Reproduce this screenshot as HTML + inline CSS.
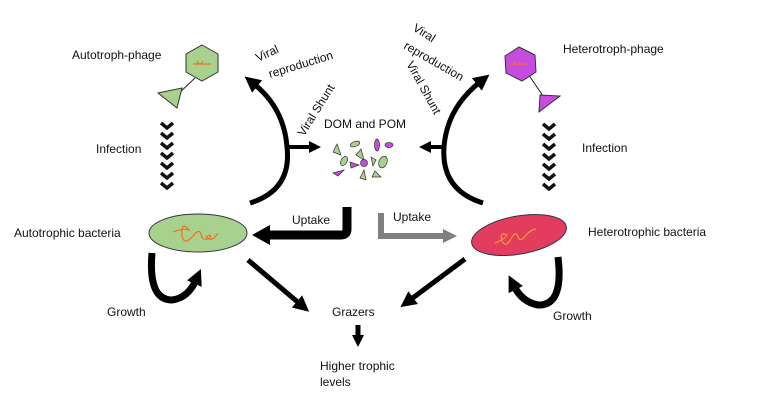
<!DOCTYPE html>
<html><head><meta charset="utf-8"><style>
html,body{margin:0;padding:0;background:#fff;}
svg{display:block;font-family:"Liberation Sans",sans-serif;}
text{font-size:12px;fill:#111;}
</style></head><body>
<svg width="764" height="413" viewBox="0 0 764 413" xmlns="http://www.w3.org/2000/svg">
<defs>
<marker id="ah" markerWidth="16" markerHeight="16" refX="4" refY="8" orient="auto" markerUnits="userSpaceOnUse"><path d="M0,0 L16,8 L0,16 z" fill="#000"/></marker>
<marker id="ahs" markerWidth="12" markerHeight="12" refX="3" refY="6" orient="auto" markerUnits="userSpaceOnUse"><path d="M0,0 L12,6 L0,12 z" fill="#000"/></marker>
<marker id="ahb" markerWidth="18" markerHeight="20" refX="4" refY="10" orient="auto" markerUnits="userSpaceOnUse"><path d="M0,0 L18,10 L0,20 z" fill="#000"/></marker>
<marker id="ahg" markerWidth="14" markerHeight="14" refX="3" refY="7" orient="auto" markerUnits="userSpaceOnUse"><path d="M0,0 L14,7 L0,14 z" fill="#7f7f7f"/></marker>
</defs>

<!-- left phage -->
<line x1="195" y1="78" x2="176" y2="96" stroke="#222" stroke-width="1"/>
<polygon points="202,45 218,54 218,72 202,81 186,72 186,54" fill="#a9d18e" stroke="#333" stroke-width="1"/>
<path d="M193,64 h18 M197,61 q3,6 6,0" stroke="#f07020" stroke-width="1.2" fill="none"/>
<polygon points="158,93 182,88 177,108" fill="#a9d18e" stroke="#333" stroke-width="1"/>
<!-- right phage -->
<line x1="524" y1="68" x2="543" y2="96" stroke="#222" stroke-width="1"/>
<polygon points="519,47 535,55 536,72 522,81 506,73 505,56" fill="#c64ce0" stroke="#333" stroke-width="1"/>
<path d="M510,64 h18 M514,61 q3,6 6,0" stroke="#f07020" stroke-width="1.2" fill="none"/>
<polygon points="540,95 560,96 539,112" fill="#c64ce0" stroke="#333" stroke-width="1"/>

<!-- chevrons -->
<g fill="none" stroke="#111" stroke-width="3.5">
<path d="M161,123 l6,5 l6,-5 M161,133 l6,5 l6,-5 M161,143 l6,5 l6,-5 M161,153 l6,5 l6,-5 M161,163 l6,5 l6,-5 M161,173 l6,5 l6,-5 M161,183 l6,5 l6,-5"/>
<path d="M543,124 l6,5 l6,-5 M543,134 l6,5 l6,-5 M543,144 l6,5 l6,-5 M543,154 l6,5 l6,-5 M543,164 l6,5 l6,-5 M543,174 l6,5 l6,-5 M543,184 l6,5 l6,-5"/>
</g>

<!-- arcs -->
<path d="M250,203 Q292,190 287,147 Q284,108 254,84" fill="none" stroke="#000" stroke-width="5" marker-end="url(#ah)"/>
<path d="M483,203 Q441,190 444,147 Q447,108 480,82" fill="none" stroke="#000" stroke-width="5" marker-end="url(#ah)"/>
<!-- viral shunt arrows -->
<line x1="287" y1="147" x2="312" y2="147" stroke="#000" stroke-width="4" marker-end="url(#ahs)"/>
<line x1="444" y1="147" x2="428" y2="147" stroke="#000" stroke-width="4" marker-end="url(#ahs)"/>

<!-- particles -->
<g stroke="#333" stroke-width="0.7">
<polygon points="337,144 341,155 333,152" fill="#a9d18e"/>
<ellipse cx="355" cy="144" rx="5" ry="2.5" fill="#a9d18e" transform="rotate(-20 355 144)"/>
<ellipse cx="377" cy="145" rx="2.5" ry="6" fill="#c64ce0"/>
<ellipse cx="389" cy="145" rx="4" ry="2.5" fill="#c64ce0"/>
<polygon points="361,149 364,160 356,155" fill="#a9d18e"/>
<ellipse cx="344" cy="161" rx="3" ry="5" fill="#a9d18e" transform="rotate(30 344 161)"/>
<polygon points="350,162 359,165 351,168" fill="#c64ce0"/>
<circle cx="364" cy="163" r="3.5" fill="#c64ce0"/>
<polygon points="371,157 376,160 373,166" fill="#a9d18e"/>
<ellipse cx="383" cy="162" rx="4" ry="6" fill="#a9d18e" transform="rotate(20 383 162)"/>
<polygon points="333,173 344,170 338,176" fill="#c64ce0"/>
<polygon points="364,170 366,180 360,178" fill="#a9d18e"/>
<polygon points="375,171 381,177 372,177" fill="#a9d18e"/>
</g>

<!-- uptake -->
<path d="M347,207 V229 Q347,235 341,235 H266" fill="none" stroke="#000" stroke-width="9" marker-end="url(#ahb)"/>
<path d="M381,213 V236 H446" fill="none" stroke="#7f7f7f" stroke-width="6" marker-end="url(#ahg)"/>

<!-- ellipses -->
<ellipse cx="198" cy="233" rx="49" ry="19" fill="#a9d18e" stroke="#334" stroke-width="1"/>
<path d="M173,232 q10,-4 16,-2 q-8,-10 -7,6 q2,10 11,0 q6,-8 8,-2 q1,8 9,4 q2,-5 -4,-1 q6,6 12,-4" fill="none" stroke="#f07020" stroke-width="1.2"/>
<ellipse cx="519" cy="235" rx="48" ry="19" fill="#e23c5e" stroke="#334" stroke-width="1" transform="rotate(-10 519 235)"/>
<path d="M495,243 q10,-4 12,-8 q-8,-4 -5,6 q4,8 10,-4 q4,-6 6,0 q2,6 8,-2 q6,-6 10,-6" fill="none" stroke="#f49a30" stroke-width="1.2"/>

<!-- growth loops -->
<path d="M152,253 Q148,300 172,300 Q188,298 196,280" fill="none" stroke="#000" stroke-width="7" marker-end="url(#ah)"/>
<path d="M558,257 Q564,306 538,305 Q522,302 514,286" fill="none" stroke="#000" stroke-width="7" marker-end="url(#ah)"/>

<!-- to grazers -->
<line x1="248" y1="260" x2="300" y2="304" stroke="#000" stroke-width="5" marker-end="url(#ah)"/>
<line x1="465" y1="259" x2="410" y2="300" stroke="#000" stroke-width="5" marker-end="url(#ah)"/>
<line x1="358" y1="325" x2="358" y2="338" stroke="#000" stroke-width="5" marker-end="url(#ahs)"/>

<!-- text -->
<text x="72" y="59">Autotroph-phage</text>
<text x="96" y="153">Infection</text>
<text x="14" y="237">Autotrophic bacteria</text>
<text x="107" y="316">Growth</text>
<text x="563" y="53">Heterotroph-phage</text>
<text x="582" y="152">Infection</text>
<text x="588" y="236">Heterotrophic bacteria</text>
<text x="553" y="320">Growth</text>
<text x="324" y="128">DOM and POM</text>
<text x="292" y="224">Uptake</text>
<text x="393" y="221">Uptake</text>
<text x="332" y="316">Grazers</text>
<text x="320" y="370">Higher trophic</text>
<text x="320" y="386">levels</text>
<text transform="translate(258,62) rotate(-25)">Viral</text>
<text transform="translate(270,78) rotate(-17)">reproduction</text>
<text transform="translate(412,30) rotate(32)">Viral</text>
<text transform="translate(403,48) rotate(30)">reproduction</text>
<text transform="translate(304,137) rotate(-58)">Viral Shunt</text>
<text transform="translate(406,64) rotate(61)">Viral Shunt</text>
</svg>
</body></html>
